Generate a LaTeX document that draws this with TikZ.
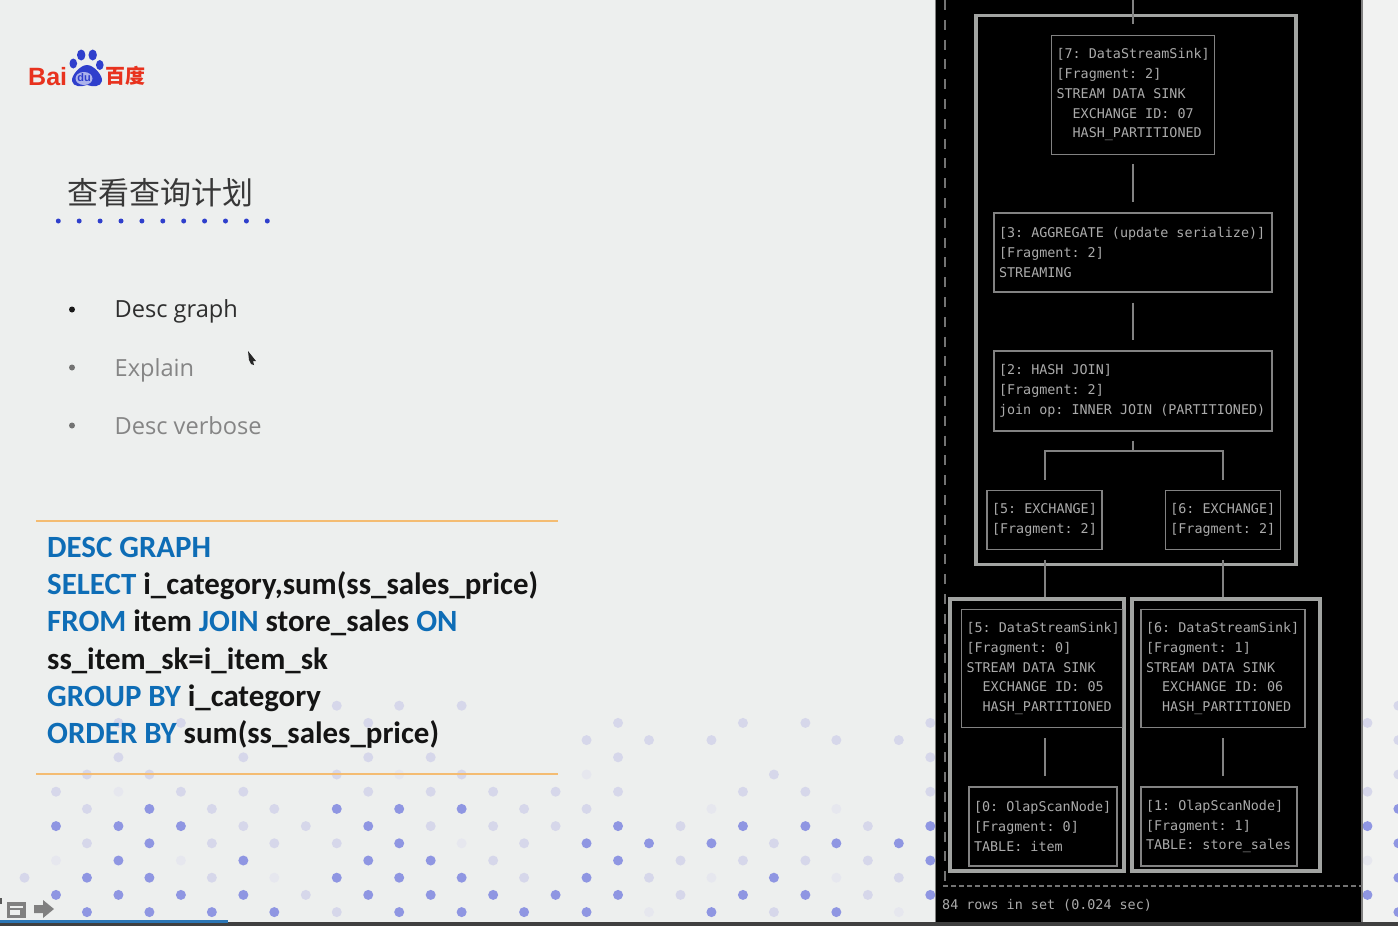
\documentclass[tikz,border=0pt]{standalone}
\usepackage{fontspec}
\setmainfont{Open Sans}
\newfontfamily\term{DejaVu Sans Mono}
\newfontfamily\sqlf{Carlito}
\newfontfamily\cjk{Noto Sans CJK SC}
\newfontfamily\logof{Liberation Sans}
\definecolor{slidebg}{HTML}{EDEFEE}
\definecolor{strip}{HTML}{F1F2F1}
\definecolor{dotD}{HTML}{8F96E2}
\definecolor{dotL}{HTML}{D6D7EA}
\definecolor{dotF}{HTML}{E6E7EE}
\definecolor{rulec}{HTML}{F4BC72}
\definecolor{sqlblue}{HTML}{0E6DB6}
\definecolor{boxc}{HTML}{828282}
\definecolor{framec}{HTML}{A2A4A2}
\definecolor{termtext}{HTML}{ABABAB}
\definecolor{baidured}{HTML}{E8321E}
\definecolor{baidublue}{HTML}{2F3FCC}
\newcommand\dotrow[3]{\foreach \k in {#3}{%
  \pgfmathsetmacro\xo{mod(#1,2)==0?24.5:56}%
  \pgfmathsetmacro\xx{\xo+62.45*\k}%
  \pgfmathsetmacro\yy{705.7+17.2*#1}%
  \fill[#2] (\xx,\yy) circle[radius=5pt];}}
\newcommand\ind{\phantom{xx}}
\newcommand\tl[1]{\mbox{#1}}
\tikzset{
  opbox/.style={draw=boxc,line width=1.3pt,inner xsep=5pt,inner ysep=0pt,align=flush left,text=termtext,
     font=\term\fontsize{13.4}{19.75}\selectfont,execute at begin node={\spaceskip=0pt\relax\frenchspacing\hbadness=10000\hfuzz=50pt\relax}},
  framebox/.style={draw=framec,line width=3.5pt,inner sep=0pt},
  conn/.style={draw=boxc,line width=2.4pt},
  thinconn/.style={draw=boxc,line width=2pt},
  bulletdot/.style={circle,inner sep=0pt,minimum size=6pt},
  bullettext/.style={anchor=base west,inner sep=0pt,font=\fontsize{23.6}{28}\selectfont},
  sqlline/.style={anchor=base west,inner sep=0pt,text=black!92,font=\sqlf\bfseries\fontsize{30.9}{37}\selectfont},
}
\newcommand\kwd[1]{\textcolor{sqlblue}{#1}}
\begin{document}
\begin{tikzpicture}[x=1pt,y=-1pt]
\useasboundingbox (0,0) rectangle (1398,926);
\clip (0,0) rectangle (1398,926);
\fill[slidebg] (0,0) rectangle (1398,926);
\fill[strip] (1362,0) rectangle (1398,926);
% dots
\dotrow{0}{dotL}{5,6,7,22}
\dotrow{1}{dotL}{1,2,5,9,11,12,14,21}
\dotrow{2}{dotL}{9,10,11,13,14,22}
\dotrow{3}{dotL}{1,3,5,6,9,14}
\dotrow{4}{dotL}{1,2,5,7,12,22}
\dotrow{4}{dotF}{6,9}
\dotrow{5}{dotL}{0,2,3,5,6,7,8,9,11,12,14,21}
\dotrow{5}{dotF}{1}
\dotrow{6}{dotL}{1,3,4,8,9}
\dotrow{6}{dotD}{2,5,6,7,22}
\dotrow{6}{dotF}{11,13}
\dotrow{7}{dotD}{0,1,2,5,9,11,12,14,21}
\dotrow{7}{dotL}{3,4,6,7,8,10,13}
\dotrow{8}{dotD}{2,6,9,10,11,13,14,22}
\dotrow{8}{dotL}{1,3,4,5,8,12}
\dotrow{8}{dotF}{7}
\dotrow{9}{dotD}{1,3,5,6,9,14}
\dotrow{9}{dotL}{7,10,11,12,13}
\dotrow{9}{dotF}{0,2,21}
\dotrow{10}{dotD}{1,2,5,6,7,9,12,22}
\dotrow{10}{dotL}{0,3,8,10,14}
\dotrow{10}{dotF}{4,11,13}
\dotrow{11}{dotD}{0,1,2,3,5,6,7,8,9,11,12,14,21}
\dotrow{11}{dotL}{4,10,13}
\dotrow{12}{dotD}{1,2,3,4,6,7,8,9,11,13,22}
\dotrow{12}{dotL}{5,12}
\dotrow{12}{dotF}{10,14}
% logo
\node[anchor=base west,inner sep=0pt,text=baidured,font=\logof\bfseries\fontsize{25}{25}\selectfont] (bai) at (28,85) {Bai};
\fill[baidublue] (81.2,55) ellipse[x radius=4.2pt,y radius=5.5pt];
\fill[baidublue] (92.7,55) ellipse[x radius=4.2pt,y radius=5.5pt];
\fill[baidublue] (73.3,63.5) ellipse[x radius=3.8pt,y radius=5pt];
\fill[baidublue] (99.8,65) ellipse[x radius=3.8pt,y radius=5pt];
\fill[baidublue] (87,65) .. controls (94,65) and (103,76) .. (102,81) .. controls (101,87) and (93,87) .. (87,85)
   .. controls (81,87) and (73,87) .. (72,81) .. controls (71,76) and (80,65) .. (87,65) -- cycle;
\fill[white!60!baidublue] (84,78.5) ellipse[x radius=8.5pt,y radius=6.5pt];
\node[inner sep=0pt,text=baidublue,font=\logof\bfseries\fontsize{11}{11}\selectfont] (du) at (84,78) {du};
\node[anchor=west,inner sep=0pt,text=baidured,font=\cjk\bfseries\fontsize{20}{20}\selectfont] (bd) at (105,76) {百度};
% title
\node[anchor=west,inner sep=0pt,text=black!78,font=\cjk\fontsize{31}{31}\selectfont] (title) at (67,193) {查看查询计划};
\foreach \i in {0,...,10} \fill[baidublue] (58.3+20.9*\i,221) circle[radius=2.5pt];
% bullets
\node[bulletdot,fill=black!90] (b1) at (72,309.5) {};
\node[bulletdot,fill=black!55] (b2) at (72,367.5) {};
\node[bulletdot,fill=black!55] (b3) at (72,425.5) {};
\node[bullettext,text=black!82] (t1) at (114.5,317.5) {Desc graph};
\node[bullettext,text=black!48] (t2) at (114.5,376) {Explain};
\node[bullettext,text=black!48] (t3) at (114.5,434) {Desc verbose};
\fill[black!85] (248,351) -- (256,361) -- (253,361) -- (254,365) -- (251,364) -- (249,360) -- cycle;
% sql
\draw[rulec,line width=2.8pt] (36,521) -- (558,521);
\draw[rulec,line width=2.8pt] (36,774) -- (558,774);
\node[sqlline] (s1) at (47,557.5) {\kwd{DESC GRAPH}};
\node[sqlline] (s2) at (47,594.7) {\kwd{SELECT} i\_category,sum(ss\_sales\_price)};
\node[sqlline] (s3) at (47,631.9) {\kwd{FROM} item \kwd{JOIN} store\_sales \kwd{ON}};
\node[sqlline] (s4) at (47,669.1) {ss\_item\_sk=i\_item\_sk};
\node[sqlline] (s5) at (47,706.3) {\kwd{GROUP BY} i\_category};
\node[sqlline] (s6) at (47,743.5) {\kwd{ORDER BY} sum(ss\_sales\_price)};
% bottom controls
\fill[black!50] (7,902) rectangle (26,918);
\fill[slidebg] (10,906) rectangle (23,908);
\fill[slidebg] (10,910) rectangle (20,915);
\fill[black!50] (34,905) -- (43,905) -- (43,900) -- (54,909) -- (43,918) -- (43,913) -- (34,913) -- cycle;
\fill[black!75] (0,922) rectangle (1398,926);
\fill[black!65] (0,898) rectangle (1.5,904);
\fill[cyan!60!blue!85!black] (0,920) rectangle (228,922.5);
% terminal panel
\fill[black] (935.5,0) rectangle (1362,922);
\draw[black!50,line width=1pt] (935.5,0) -- (935.5,922);
\draw[black!50,line width=1.5pt] (1362,0) -- (1362,922);
\coordinate (dashTop) at (945,0);
\coordinate (dashBot) at (945,886);
\coordinate (dashStart) at (943,886);
\coordinate (dashEnd) at (1362,886);
\draw[black!55,line width=2.2pt,dash pattern=on 10pt off 9.8pt] (dashTop) -- (dashBot);
\draw[black!55,line width=1.3pt,dash pattern=on 5pt off 3pt] (dashStart) -- (dashEnd);
\node[anchor=base west,inner sep=0pt,text=termtext,font=\term\fontsize{13.4}{19.75}\selectfont] (rows) at (942,909.5) {84 rows in set (0.024 sec)};
% fragment frames
\node[framebox,minimum width=320pt,minimum height=549pt] (f2) at (1136,290) {};
\node[framebox,minimum width=174pt,minimum height=272pt] (f0) at (1037,735) {};
\node[framebox,minimum width=188pt,minimum height=272pt] (f1) at (1226,735) {};
% plan nodes
\node[opbox,minimum width=163pt,minimum height=119pt,text width=153pt] (n7) at (1133,94.8)
 {\tl{[7: DataStreamSink]}\\\tl{[Fragment: 2]}\\\tl{STREAM DATA SINK}\\\tl{\ind EXCHANGE ID: 07}\\\tl{\ind HASH\_PARTITIONED}};
\node[opbox,minimum width=278pt,minimum height=79pt,text width=268pt] (n3) at (1133,252.5)
 {\tl{[3: AGGREGATE (update serialize)]}\\\tl{[Fragment: 2]}\\\tl{STREAMING}};
\node[opbox,minimum width=278pt,minimum height=80pt,text width=268pt] (n2) at (1133,391)
 {\tl{[2: HASH JOIN]}\\\tl{[Fragment: 2]}\\\tl{join op: INNER JOIN (PARTITIONED)}};
\node[opbox,minimum width=115pt,minimum height=59pt,text width=105pt] (e5) at (1044.5,519.8)
 {\tl{[5: EXCHANGE]}\\\tl{[Fragment: 2]}};
\node[opbox,minimum width=115pt,minimum height=59pt,text width=105pt] (e6) at (1222.8,519.8)
 {\tl{[6: EXCHANGE]}\\\tl{[Fragment: 2]}};
\node[opbox,minimum width=161pt,minimum height=118pt,text width=151pt] (s5n) at (1042,668.6)
 {\tl{[5: DataStreamSink]}\\\tl{[Fragment: 0]}\\\tl{STREAM DATA SINK}\\\tl{\ind EXCHANGE ID: 05}\\\tl{\ind HASH\_PARTITIONED}};
\node[opbox,minimum width=164pt,minimum height=118pt,text width=154pt] (s6n) at (1223,668.6)
 {\tl{[6: DataStreamSink]}\\\tl{[Fragment: 1]}\\\tl{STREAM DATA SINK}\\\tl{\ind EXCHANGE ID: 06}\\\tl{\ind HASH\_PARTITIONED}};
\node[opbox,minimum width=148pt,minimum height=79pt,text width=138pt] (o0) at (1043,826.5)
 {\tl{[0: OlapScanNode]}\\\tl{[Fragment: 0]}\\\tl{TABLE: item}};
\node[opbox,minimum width=156pt,minimum height=79pt,text width=146pt] (o1) at (1219,826.5)
 {\tl{[1: OlapScanNode]}\\\tl{[Fragment: 1]}\\\tl{TABLE: store\_sales}};
% connectors
\coordinate (top) at (1133,0);
\coordinate (j) at (1133,451);
\draw[conn,shorten >=11pt] (top) -- (n7.north);
\draw[conn,shorten <=9pt,shorten >=10pt] (n7.south) -- (n3.north);
\draw[conn,shorten <=10pt,shorten >=10pt] (n3.south) -- (n2.north);
\draw[conn,shorten <=9pt] (n2.south) -- (j);
\draw[thinconn,shorten <=10pt,shorten >=10pt] (e5.north) |- (j) -| (e6.north);
\draw[thinconn,shorten <=10pt] (e5.south) -- (e5.south |- f0.north);
\draw[thinconn,shorten <=10pt] (e6.south) -- (e6.south |- f1.north);
\draw[thinconn,shorten <=10pt,shorten >=10pt] (s5n.south -| e5.south) -- (o0.north -| e5.south);
\draw[thinconn,shorten <=10pt,shorten >=10pt] (s6n.south -| e6.south) -- (o1.north -| e6.south);
\end{tikzpicture}
\end{document}
